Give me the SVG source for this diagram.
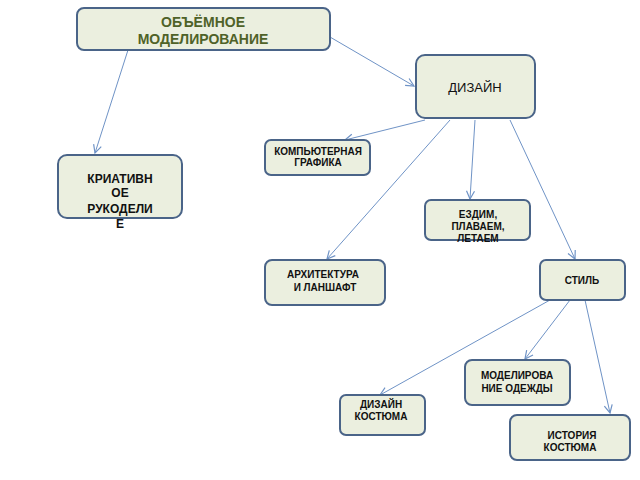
<svg xmlns="http://www.w3.org/2000/svg" width="640" height="480" viewBox="0 0 640 480">
<style>
.n{fill:#ebefdf;stroke:#4a6488;stroke-width:2}
.t{font-family:"Liberation Sans",Arial,sans-serif;font-weight:bold;fill:#111;text-anchor:middle}
.c{stroke:#6f93c6;stroke-width:1;fill:none;marker-end:url(#a)}
</style>
<defs><marker id="a" markerWidth="10" markerHeight="10" refX="9" refY="5" orient="auto" markerUnits="userSpaceOnUse"><path d="M1,1 L9,5 L1,9" fill="none" stroke="#6f93c6" stroke-width="1.2"/></marker></defs>
<rect width="640" height="480" fill="#fff"/>
<g id="connectors">
<line class="c" x1="330" y1="37" x2="414" y2="86"/>
<line class="c" x1="128" y1="50" x2="95" y2="153"/>
<line class="c" x1="425" y1="120" x2="345" y2="140"/>
<line class="c" x1="450" y1="120" x2="327" y2="259"/>
<line class="c" x1="475" y1="120" x2="470" y2="199"/>
<line class="c" x1="510" y1="120" x2="575" y2="259"/>
<line class="c" x1="550" y1="300" x2="380" y2="395"/>
<line class="c" x1="570" y1="300" x2="525" y2="359"/>
<line class="c" x1="585" y1="300" x2="610" y2="413"/>
</g>
<g id="n1"><rect class="n" x="77" y="8" width="253" height="42" rx="7"/><text class="t" x="203" y="27" font-size="14" fill="#4f6228" style="fill:#4f6228">ОБЪЁМНОЕ</text><text class="t" x="203" y="44" font-size="14" style="fill:#4f6228">МОДЕЛИРОВАНИЕ</text></g>
<g id="n2"><rect class="n" x="416" y="55" width="119" height="63" rx="9"/><text class="t" x="475" y="92" font-size="13" font-weight="normal" style="font-weight:normal">ДИЗАЙН</text></g>
<g id="n3"><rect class="n" x="265" y="140" width="105" height="35" rx="6"/><text class="t" x="318" y="155" font-size="10">КОМПЬЮТЕРНАЯ</text><text class="t" x="318" y="166" font-size="10">ГРАФИКА</text></g>
<g id="n4"><rect class="n" x="58" y="155" width="124" height="63" rx="9"/><text class="t" x="120" y="183" font-size="12">КРИАТИВН</text><text class="t" x="120" y="197" font-size="12">ОЕ</text><text class="t" x="120" y="213" font-size="12">РУКОДЕЛИ</text><text class="t" x="120" y="228" font-size="12">Е</text></g>
<g id="n5"><rect class="n" x="425" y="200" width="105" height="40" rx="6"/><text class="t" x="478" y="218" font-size="10">ЕЗДИМ,</text><text class="t" x="478" y="230" font-size="10">ПЛАВАЕМ,</text><text class="t" x="478" y="242" font-size="10">ЛЕТАЕМ</text></g>
<g id="n6"><rect class="n" x="265" y="260" width="120" height="45" rx="7"/><text class="t" x="323" y="278" font-size="10">АРХИТЕКТУРА</text><text class="t" x="325" y="291" font-size="10">И ЛАНШАФТ</text></g>
<g id="n7"><rect class="n" x="540" y="260" width="85" height="40" rx="6"/><text class="t" x="582" y="284" font-size="10">СТИЛЬ</text></g>
<g id="n8"><rect class="n" x="465" y="360" width="105" height="45" rx="7"/><text class="t" x="517" y="379" font-size="10">МОДЕЛИРОВА</text><text class="t" x="517" y="392" font-size="10">НИЕ ОДЕЖДЫ</text></g>
<g id="n9"><rect class="n" x="340" y="395" width="85" height="40" rx="6"/><text class="t" x="381" y="408" font-size="10">ДИЗАЙН</text><text class="t" x="381" y="420" font-size="10">КОСТЮМА</text></g>
<g id="n10"><rect class="n" x="510" y="415" width="120" height="45" rx="7"/><text class="t" x="572" y="439" font-size="10">ИСТОРИЯ</text><text class="t" x="570" y="451" font-size="10">КОСТЮМА</text></g>
</svg>
